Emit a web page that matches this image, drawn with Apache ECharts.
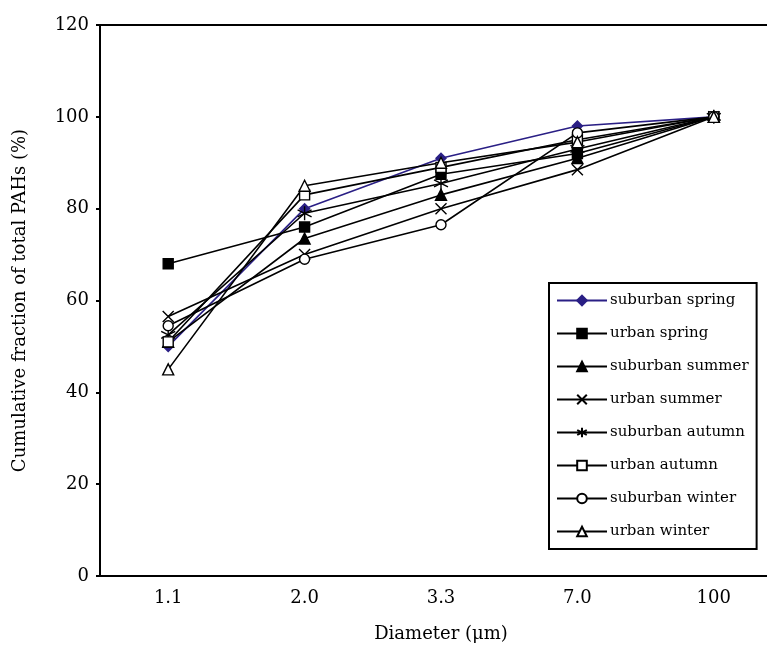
<!DOCTYPE html>
<html>
<head>
<meta charset="utf-8">
<script src="https://cdn.jsdelivr.net/npm/echarts@6/dist/echarts.min.js"></script>
<style>
  html, body { margin: 0; padding: 0; background: #fff; }
  #main { width: 767px; height: 645px; }
</style>
</head>
<body>
<div id="main"></div>
<script>
// 粒径分类
var diameters = ['1.1', '2.0', '3.3', '7.0', '100']
var seriesNames = ['suburban spring', 'urban spring', 'suburban summer', 'urban summer',
  'suburban autumn', 'urban autumn', 'suburban winter', 'urban winter']

// 累积分数 (%)
var suburbanSpring = [50, 80, 91, 98, 100]
var urbanSpring = [68, 76, 87.5, 92, 100]
var suburbanSummer = [51, 73.5, 83, 91, 100]
var urbanSummer = [56.5, 70, 80, 88.5, 100]
var suburbanAutumn = [52.5, 79, 85.5, 93, 100]
var urbanAutumn = [51, 83, 89, 95, 100]
var suburbanWinter = [54.5, 69, 76.5, 96.5, 100]
var urbanWinter = [45, 85, 90, 94.5, 100]

var yTicks = [0, 20, 40, 60, 80, 100, 120]

var allData = [suburbanSpring, urbanSpring, suburbanSummer, urbanSummer,
  suburbanAutumn, urbanAutumn, suburbanWinter, urbanWinter]

var crossPath = 'path://M0,0L10,10M10,0L0,10'
var starPath = 'path://M5,0L5,10M0.7,2.5L9.3,7.5M9.3,2.5L0.7,7.5'

// 每条线的标记样式
var markers = [
  { symbol: 'diamond', size: 10, color: '#2a1f85', border: '#2a1f85' },
  { symbol: 'rect', size: 10, color: '#000', border: '#000' },
  { symbol: 'triangle', size: 11, color: '#000', border: '#000' },
  { symbol: crossPath, size: 11, color: 'rgba(0,0,0,0)', border: '#000' },
  { symbol: starPath, size: 14, color: 'rgba(0,0,0,0)', border: '#000' },
  { symbol: 'rect', size: 10, color: '#fff', border: '#000' },
  { symbol: 'circle', size: 10, color: '#fff', border: '#000' },
  { symbol: 'triangle', size: 11, color: '#fff', border: '#000' }
]

var font = '"DejaVu Serif", "Liberation Serif", serif'

var chart = echarts.init(document.getElementById('main'))

var option = {
  animation: false,
  backgroundColor: '#fff',
  grid: {
    left: 100,
    top: 25,
    width: 682,
    height: 551,
    outerBoundsMode: 'none',
    containLabel: false,
    show: true,
    borderColor: '#000',
    borderWidth: 2
  },
  legend: {
    orient: 'vertical',
    left: 549,
    top: 283,
    padding: [10, 8, 10, 7],
    itemWidth: 50,
    itemHeight: 12,
    itemGap: 18,
    borderColor: '#000',
    borderWidth: 2,
    backgroundColor: '#fff',
    textStyle: { fontFamily: font, fontSize: 15, color: '#000', padding: [0, 0, 0, -2] },
    data: seriesNames
  },
  xAxis: {
    type: 'category',
    data: diameters,
    boundaryGap: true,
    axisLine: { lineStyle: { color: '#000', width: 2 } },
    axisTick: { show: false },
    axisLabel: { color: '#000', fontFamily: font, fontSize: 18, margin: 13 },
    name: 'Diameter (μm)',
    nameLocation: 'middle',
    nameGap: 49,
    nameTextStyle: { color: '#000', fontFamily: font, fontSize: 18 }
  },
  yAxis: {
    type: 'value',
    min: yTicks[0],
    max: yTicks[yTicks.length - 1],
    interval: 20,
    axisLine: { show: true, lineStyle: { color: '#000', width: 2 } },
    axisTick: { show: true, length: 4, lineStyle: { color: '#000', width: 2 } },
    splitLine: { show: false },
    axisLabel: { color: '#000', fontFamily: font, fontSize: 18, margin: 11 },
    name: 'Cumulative fraction of total PAHs (%)',
    nameLocation: 'middle',
    nameGap: 71,
    nameTextStyle: { color: '#000', fontFamily: font, fontSize: 18 }
  },
  series: seriesNames.map(function (name, i) {
    var m = markers[i]
    return {
      name: name,
      type: 'line',
      data: allData[i],
      symbol: m.symbol,
      symbolSize: m.size,
      showAllSymbol: true,
      lineStyle: { color: i === 0 ? '#2a1f85' : '#000', width: 1.6 },
      itemStyle: { color: m.color, borderColor: m.border, borderWidth: 1.4, opacity: 1 },
      emphasis: { disabled: true }
    }
  })
}

chart.setOption(option)
window.addEventListener('resize', () => {
  chart.resize()
})
</script>
</body>
</html>
